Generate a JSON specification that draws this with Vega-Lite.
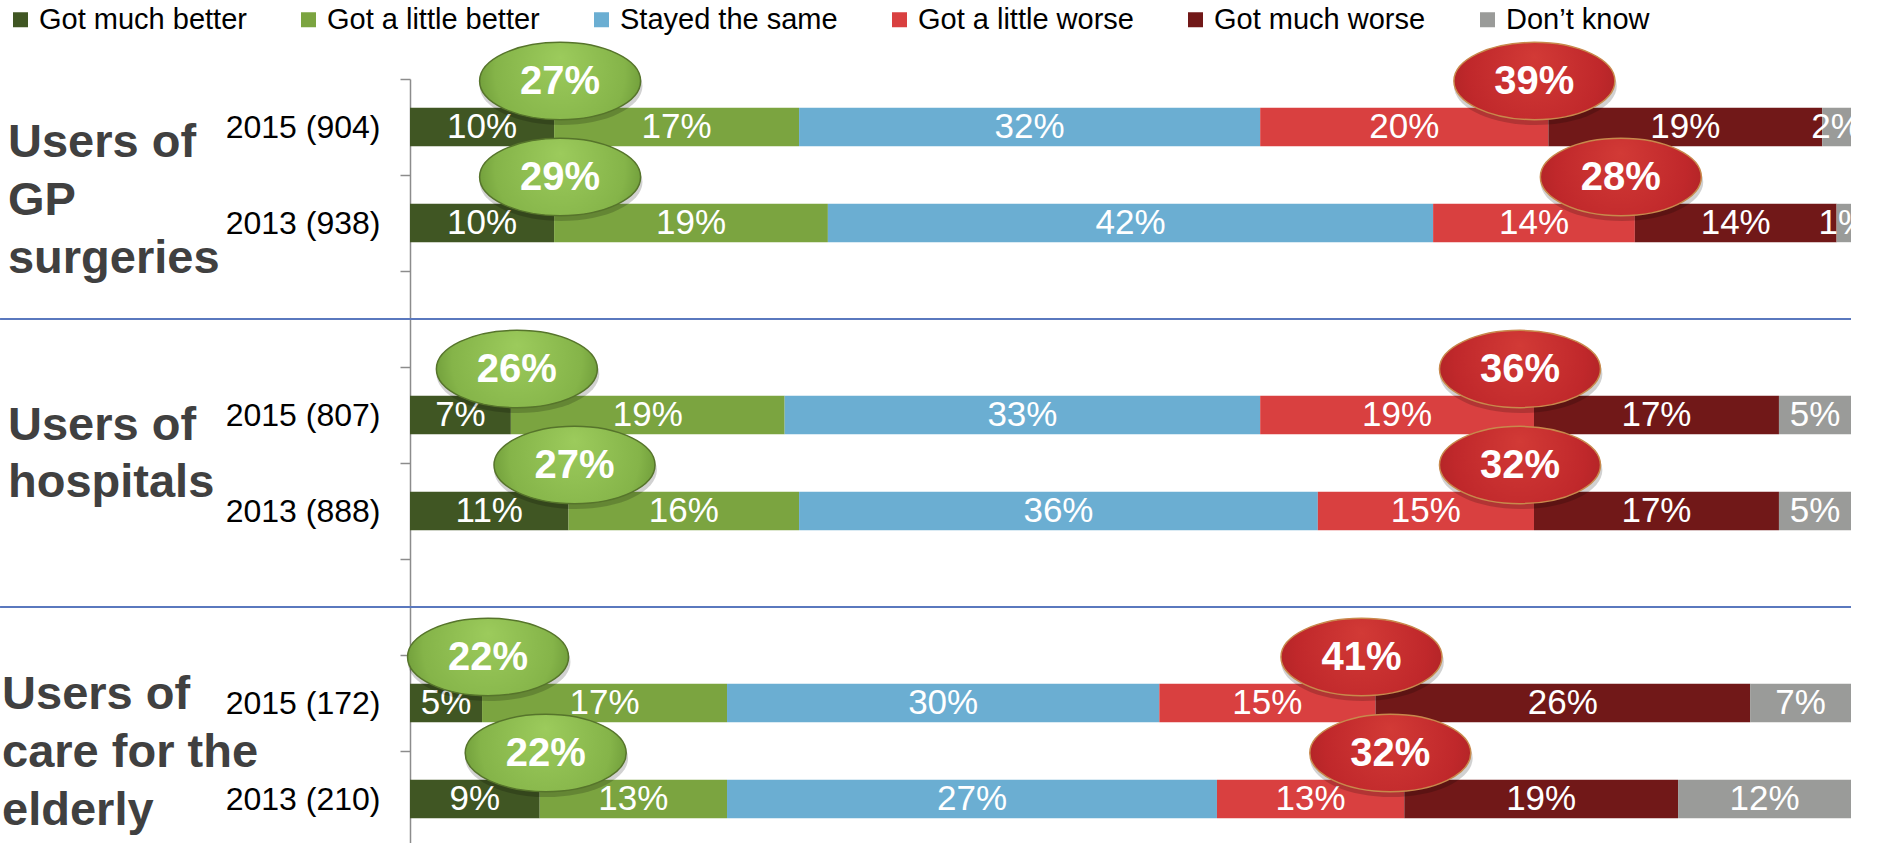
{
  "$schema": "https://vega.github.io/schema/vega-lite/v6.json",
  "width": 1441,
  "height": 768,
  "autosize": {"type": "none"},
  "padding": {"left": 410, "top": 79, "right": 27, "bottom": 0},
  "background": "white",
  "config": {"view": {"stroke": null}, "font": "Liberation Sans"},
  "datasets": {
    "answers": [
      {"answer": "Got much better", "rank": 1, "side": "better"},
      {"answer": "Got a little better", "rank": 2, "side": "better"},
      {"answer": "Stayed the same", "rank": 3, "side": "same"},
      {"answer": "Got a little worse", "rank": 4, "side": "worse"},
      {"answer": "Got much worse", "rank": 5, "side": "worse"},
      {"answer": "Don’t know", "rank": 6, "side": "dk"}
    ]
  },
  "data": {
    "values": [
      {"row": "2015 (904)", "answer": "Got much better", "value": 0.10, "label": 0.10},
      {"row": "2015 (904)", "answer": "Got a little better", "value": 0.17, "label": 0.17},
      {"row": "2015 (904)", "answer": "Stayed the same", "value": 0.32, "label": 0.32},
      {"row": "2015 (904)", "answer": "Got a little worse", "value": 0.20, "label": 0.20},
      {"row": "2015 (904)", "answer": "Got much worse", "value": 0.19, "label": 0.19},
      {"row": "2015 (904)", "answer": "Don’t know", "value": 0.02, "label": 0.02},
      {"row": "2013 (938)", "answer": "Got much better", "value": 0.10, "label": 0.10},
      {"row": "2013 (938)", "answer": "Got a little better", "value": 0.19, "label": 0.19},
      {"row": "2013 (938)", "answer": "Stayed the same", "value": 0.42, "label": 0.42},
      {"row": "2013 (938)", "answer": "Got a little worse", "value": 0.14, "label": 0.14},
      {"row": "2013 (938)", "answer": "Got much worse", "value": 0.14, "label": 0.14},
      {"row": "2013 (938)", "answer": "Don’t know", "value": 0.01, "label": 0.01},
      {"row": "2015 (807)", "answer": "Got much better", "value": 0.07, "label": 0.07},
      {"row": "2015 (807)", "answer": "Got a little better", "value": 0.19, "label": 0.19},
      {"row": "2015 (807)", "answer": "Stayed the same", "value": 0.33, "label": 0.33},
      {"row": "2015 (807)", "answer": "Got a little worse", "value": 0.19, "label": 0.19},
      {"row": "2015 (807)", "answer": "Got much worse", "value": 0.17, "label": 0.17},
      {"row": "2015 (807)", "answer": "Don’t know", "value": 0.05, "label": 0.05},
      {"row": "2013 (888)", "answer": "Got much better", "value": 0.11, "label": 0.11},
      {"row": "2013 (888)", "answer": "Got a little better", "value": 0.16, "label": 0.16},
      {"row": "2013 (888)", "answer": "Stayed the same", "value": 0.36, "label": 0.36},
      {"row": "2013 (888)", "answer": "Got a little worse", "value": 0.15, "label": 0.15},
      {"row": "2013 (888)", "answer": "Got much worse", "value": 0.17, "label": 0.17},
      {"row": "2013 (888)", "answer": "Don’t know", "value": 0.05, "label": 0.05},
      {"row": "2015 (172)", "answer": "Got much better", "value": 0.05, "label": 0.05},
      {"row": "2015 (172)", "answer": "Got a little better", "value": 0.17, "label": 0.17},
      {"row": "2015 (172)", "answer": "Stayed the same", "value": 0.30, "label": 0.30},
      {"row": "2015 (172)", "answer": "Got a little worse", "value": 0.15, "label": 0.15},
      {"row": "2015 (172)", "answer": "Got much worse", "value": 0.26, "label": 0.26},
      {"row": "2015 (172)", "answer": "Don’t know", "value": 0.07, "label": 0.07},
      {"row": "2013 (210)", "answer": "Got much better", "value": 0.09, "label": 0.09},
      {"row": "2013 (210)", "answer": "Got a little better", "value": 0.13, "label": 0.13},
      {"row": "2013 (210)", "answer": "Stayed the same", "value": 0.34, "label": 0.27},
      {"row": "2013 (210)", "answer": "Got a little worse", "value": 0.13, "label": 0.13},
      {"row": "2013 (210)", "answer": "Got much worse", "value": 0.19, "label": 0.19},
      {"row": "2013 (210)", "answer": "Don’t know", "value": 0.12, "label": 0.12}
    ]
  },
  "encoding": {
    "y": {
      "field": "row",
      "type": "nominal",
      "scale": {
        "domain": ["2015 (904)", "2013 (938)", "gap1", "2015 (807)", "2013 (888)", "gap2", "2015 (172)", "2013 (210)"],
        "paddingInner": 0,
        "paddingOuter": 0
      },
      "axis": {
        "title": null,
        "orient": "left",
        "tickBand": "extent",
        "domainColor": "#8C8C8C",
        "domainWidth": 1.5,
        "tickColor": "#8C8C8C",
        "tickWidth": 1.5,
        "tickSize": 10,
        "labelFont": "Liberation Sans",
        "labelFontSize": 32,
        "labelColor": "#000000",
        "labelPadding": 20,
        "labelLimit": 400,
        "labelExpr": "indexof(datum.label, 'gap') === 0 ? '' : datum.label"
      }
    }
  },
  "layer": [
    {
      "data": {"values": [{"row": "gap1"}, {"row": "gap2"}]},
      "mark": {"type": "rule", "color": "#5A78BE", "strokeWidth": 2},
      "encoding": {
        "x": {"datum": -0.2845, "type": "quantitative", "scale": {"domain": [0, 1]}},
        "x2": {"datum": 1}
      }
    },
    {
      "transform": [
        {"lookup": "answer", "from": {"data": {"name": "answers"}, "key": "answer", "fields": ["rank", "side"]}}
      ],
      "layer": [
        {
          "mark": {"type": "bar", "height": {"band": 0.4}},
          "encoding": {
            "x": {"field": "value", "type": "quantitative", "stack": "zero", "scale": {"domain": [0, 1]}, "axis": null},
            "order": {"field": "rank", "type": "quantitative"},
            "color": {
              "field": "answer",
              "type": "nominal",
              "scale": {
                "domain": ["Got much better", "Got a little better", "Stayed the same", "Got a little worse", "Got much worse", "Don’t know"],
                "range": ["#405623", "#7BA440", "#6BAED2", "#D94040", "#711818", "#9A9B99"]
              },
              "legend": {
                "title": null,
                "orient": "none",
                "legendX": -404,
                "legendY": -74,
                "direction": "horizontal",
                "symbolType": "square",
                "symbolSize": 225,
                "symbolStrokeWidth": 0,
                "labelFont": "Liberation Sans",
                "labelFontSize": 29,
                "labelColor": "#000000",
                "labelOffset": 4,
                "columnPadding": 47,
                "padding": 0,
                "labelLimit": 400
              }
            }
          }
        },
        {
          "mark": {"type": "text", "color": "white", "fontSize": 35, "align": "center", "baseline": "middle"},
          "encoding": {
            "x": {"field": "value", "type": "quantitative", "stack": "zero", "bandPosition": 0.5, "scale": {"domain": [0, 1]}},
            "detail": {"field": "answer"},
            "order": {"field": "rank", "type": "quantitative"},
            "text": {"field": "label", "type": "quantitative", "format": ".0%"}
          }
        }
      ]
    },
    {
      "transform": [
        {"lookup": "answer", "from": {"data": {"name": "answers"}, "key": "answer", "fields": ["rank", "side"]}},
        {"stack": "value", "groupby": ["row"], "sort": [{"field": "rank", "order": "ascending"}], "as": ["x0", "x1"]},
        {"joinaggregate": [{"op": "sum", "field": "label", "as": "total"}], "groupby": ["row", "side"]},
        {"filter": "datum.answer === 'Got much better'"}
      ],
      "encoding": {
        "x": {"field": "x1", "type": "quantitative", "scale": {"domain": [0, 1]}}
      },
      "layer": [
        {
          "mark": {"type": "point", "shape": "M -1 0 C -1 -0.265 -0.552 -0.48 0 -0.48 C 0.552 -0.48 1 -0.265 1 0 C 1 0.265 0.552 0.48 0 0.48 C -0.552 0.48 -1 0.265 -1 0 Z", "size": 26500, "filled": true, "fill": "#000000", "opacity": 0.18, "xOffset": 7, "yOffset": -41}
        },
        {
          "mark": {
            "type": "point",
            "shape": "M -1 0 C -1 -0.265 -0.552 -0.48 0 -0.48 C 0.552 -0.48 1 -0.265 1 0 C 1 0.265 0.552 0.48 0 0.48 C -0.552 0.48 -1 0.265 -1 0 Z",
            "size": 25921,
            "filled": true,
            "opacity": 1,
            "fill": {"gradient": "radial", "x1": 0.5, "y1": 0.35, "r1": 0, "x2": 0.5, "y2": 0.5, "r2": 0.62, "stops": [{"offset": 0, "color": "#9CCB5C"}, {"offset": 0.65, "color": "#85B449"}, {"offset": 1, "color": "#5E8A2E"}]},
            "stroke": "#56742B",
            "strokeWidth": 1.5,
            "xOffset": 6,
            "yOffset": -46
          }
        },
        {
          "mark": {"type": "text", "color": "white", "fontWeight": "bold", "fontSize": 40, "align": "center", "baseline": "middle", "xOffset": 6, "yOffset": -45},
          "encoding": {"text": {"field": "total", "type": "quantitative", "format": ".0%"}}
        }
      ]
    },
    {
      "transform": [
        {"lookup": "answer", "from": {"data": {"name": "answers"}, "key": "answer", "fields": ["rank", "side"]}},
        {"stack": "value", "groupby": ["row"], "sort": [{"field": "rank", "order": "ascending"}], "as": ["x0", "x1"]},
        {"joinaggregate": [{"op": "sum", "field": "label", "as": "total"}], "groupby": ["row", "side"]},
        {"filter": "datum.answer === 'Got a little worse'"}
      ],
      "encoding": {
        "x": {"field": "x1", "type": "quantitative", "scale": {"domain": [0, 1]}}
      },
      "layer": [
        {
          "mark": {"type": "point", "shape": "M -1 0 C -1 -0.265 -0.552 -0.48 0 -0.48 C 0.552 -0.48 1 -0.265 1 0 C 1 0.265 0.552 0.48 0 0.48 C -0.552 0.48 -1 0.265 -1 0 Z", "size": 26500, "filled": true, "fill": "#000000", "opacity": 0.18, "xOffset": -13, "yOffset": -41}
        },
        {
          "mark": {
            "type": "point",
            "shape": "M -1 0 C -1 -0.265 -0.552 -0.48 0 -0.48 C 0.552 -0.48 1 -0.265 1 0 C 1 0.265 0.552 0.48 0 0.48 C -0.552 0.48 -1 0.265 -1 0 Z",
            "size": 25921,
            "filled": true,
            "opacity": 1,
            "fill": {"gradient": "radial", "x1": 0.5, "y1": 0.35, "r1": 0, "x2": 0.5, "y2": 0.5, "r2": 0.62, "stops": [{"offset": 0, "color": "#D23A36"}, {"offset": 0.65, "color": "#C0282B"}, {"offset": 1, "color": "#A82224"}]},
            "stroke": "#C8894C",
            "strokeWidth": 1.5,
            "xOffset": -14,
            "yOffset": -46
          }
        },
        {
          "mark": {"type": "text", "color": "white", "fontWeight": "bold", "fontSize": 40, "align": "center", "baseline": "middle", "xOffset": -14, "yOffset": -45},
          "encoding": {"text": {"field": "total", "type": "quantitative", "format": ".0%"}}
        }
      ]
    },
    {
      "data": {"values": [{"row": "2015 (904)", "group": "Users of\nGP\nsurgeries"}]},
      "mark": {"type": "text", "align": "left", "baseline": "alphabetic", "dy": 30, "lineBreak": "\n", "lineHeight": 58, "fontWeight": "bold", "fontSize": 47, "color": "#404040"},
      "encoding": {
        "x": {"datum": -0.279, "type": "quantitative", "scale": {"domain": [0, 1]}},
        "text": {"field": "group"}
      }
    },
    {
      "data": {"values": [{"row": "2015 (807)", "group": "Users of\nhospitals"}]},
      "mark": {"type": "text", "align": "left", "baseline": "alphabetic", "dy": 25, "lineBreak": "\n", "lineHeight": 57, "fontWeight": "bold", "fontSize": 47, "color": "#404040"},
      "encoding": {
        "x": {"datum": -0.279, "type": "quantitative", "scale": {"domain": [0, 1]}},
        "text": {"field": "group"}
      }
    },
    {
      "data": {"values": [{"row": "2015 (172)", "group": "Users of\ncare for the\nelderly"}]},
      "mark": {"type": "text", "align": "left", "baseline": "alphabetic", "dy": 6, "lineBreak": "\n", "lineHeight": 58, "fontWeight": "bold", "fontSize": 47, "color": "#404040"},
      "encoding": {
        "x": {"datum": -0.2831, "type": "quantitative", "scale": {"domain": [0, 1]}},
        "text": {"field": "group"}
      }
    }
  ]
}
